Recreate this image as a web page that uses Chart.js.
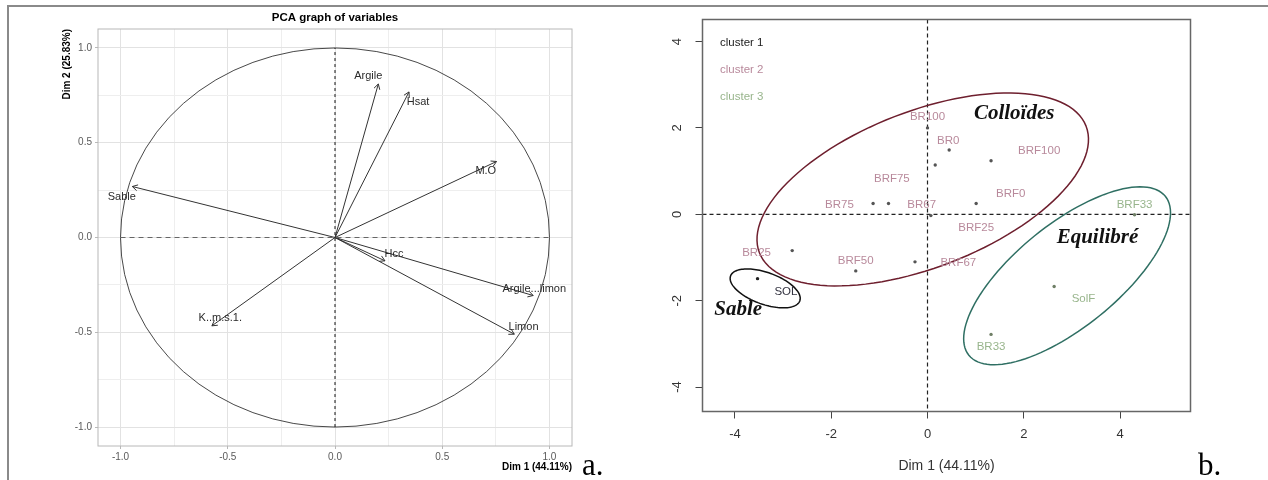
<!DOCTYPE html>
<html>
<head>
<meta charset="utf-8">
<script src="https://cdn.jsdelivr.net/npm/chart.js@4.4.1/dist/chart.umd.min.js"></script>
<style>
html, body { margin: 0; padding: 0; background: #fff; }
#wrap { position: relative; width: 1268px; height: 480px; overflow: hidden; }
#left { position: absolute; left: 0; top: 0; }
#right { position: absolute; left: 640px; top: 0; }
#frameTop { position: absolute; left: 7px; top: 5px; width: 1261px; height: 2px; background: #8a8a8a; }
#frameLeft { position: absolute; left: 7px; top: 5px; width: 2px; height: 475px; background: #8a8a8a; }
</style>
</head>
<body>
<div id="wrap">
  <canvas id="left" width="640" height="480"></canvas>
  <canvas id="right" width="628" height="480"></canvas>
  <div id="frameTop"></div>
  <div id="frameLeft"></div>
</div>
<script>
// ---- panel a : variables factor map ----
var varNames = ['Sable', 'Argile', 'Hsat', 'M.O', 'Hcc', 'Argile...limon', 'Limon', 'K..m.s.1.'];
var varDim1 = [-0.945, 0.202, 0.345, 0.753, 0.233, 0.924, 0.836, -0.574];
var varDim2 = [0.269, 0.810, 0.768, 0.401, -0.123, -0.306, -0.510, -0.466];
// where the names were written
var varLabDim1 = [-0.994, 0.155, 0.387, 0.703, 0.275, 0.929, 0.879, -0.535];
var varLabDim2 = [0.216, 0.850, 0.716, 0.352, -0.086, -0.269, -0.473, -0.426];
var gridTicksA = [-1, -0.75, -0.5, -0.25, 0, 0.25, 0.5, 0.75, 1];

// ---- panel b : individuals by cluster ----
var c1Names = ['SOL'];
var c1Dim1 = [-3.53];
var c1Dim2 = [-1.49];
var c1LabDim1 = [-2.94];
var c1LabDim2 = [-1.79];

var c2Names = ['BR100', 'BR0', 'BRF100', 'BRF75', 'BRF0', 'BR75', 'BR67', 'BRF25', 'BR25', 'BRF50', 'BRF67'];
var c2Dim1 = [0.00, 0.45, 1.32, 0.16, 1.01, -1.13, -0.81, 0.07, -2.81, -1.49, -0.26];
var c2Dim2 = [2.00, 1.49, 1.24, 1.14, 0.25, 0.25, 0.25, -0.03, -0.84, -1.31, -1.10];
var c2LabDim1 = [0.00, 0.43, 2.32, -0.74, 1.73, -1.83, -0.12, 1.01, -3.55, -1.49, 0.64];
var c2LabDim2 = [2.26, 1.71, 1.47, 0.83, 0.47, 0.22, 0.22, -0.32, -0.89, -1.08, -1.13];

var c3Names = ['BRF33', 'SolF', 'BR33'];
var c3Dim1 = [4.30, 2.63, 1.32];
var c3Dim2 = [-0.01, -1.67, -2.78];
var c3LabDim1 = [4.30, 3.24, 1.32];
var c3LabDim2 = [0.21, -1.96, -3.06];

var clusterNames = ['cluster 1', 'cluster 2', 'cluster 3'];
var ticksB = [-4, -2, 0, 2, 4];

// hand drawn ellipses: centre and two conjugate half axes, in Dim units
var ellCx = [-3.371, -0.099, 2.899];
var ellCy = [-1.715, 0.576, -1.423];
var ellUx = [0.719, 3.392, 2.040];
var ellUy = [-0.288, 1.466, 1.840];
var ellVx = [-0.112, 0.587, 0.673];
var ellVy = [-0.346, -1.685, -0.926];

var groupNames = ['Sable', 'Colloïdes', 'Equilibré'];
var groupDim1 = [-3.93, 1.80, 3.53];
var groupDim2 = [-2.21, 2.34, -0.55];

var sans = '"Liberation Sans", Arial, sans-serif';
var serif = '"Liberation Serif", "Times New Roman", serif';
var clusterText = ['#333340', '#b8899b', '#98b58c'];
var clusterDot = ['#222222', '#555555', '#6f7f66'];
var clusterEll = ['#111111', '#6e1f2e', '#2f6f63'];

function isMajor(v) { return Math.abs(v * 2 - Math.round(v * 2)) < 1e-9; }

function arrowHead(c, x0, y0, x1, y1, len) {
    var a = Math.atan2(y1 - y0, x1 - x0);
    c.beginPath();
    c.moveTo(x1 - len * Math.cos(a - 0.52), y1 - len * Math.sin(a - 0.52));
    c.lineTo(x1, y1);
    c.lineTo(x1 - len * Math.cos(a + 0.52), y1 - len * Math.sin(a + 0.52));
    c.stroke();
}

var panelA = {
    id: 'panelA',
    beforeDatasetsDraw: function(chart) {
        var c = chart.ctx, xs = chart.scales.x, ys = chart.scales.y;
        var cx = xs.getPixelForValue(0), cy = ys.getPixelForValue(0);
        var rx = xs.getPixelForValue(1) - cx, ry = cy - ys.getPixelForValue(1);
        c.save();
        c.strokeStyle = '#333';
        c.lineWidth = 0.9;
        c.beginPath();
        c.ellipse(cx, cy, rx, ry, 0, 0, 2 * Math.PI);
        c.stroke();
        c.restore();
    },
    afterDraw: function(chart) {
        var c = chart.ctx, xs = chart.scales.x, ys = chart.scales.y, a = chart.chartArea;
        c.save();
        // arrow heads
        c.strokeStyle = '#333';
        c.lineWidth = 1;
        for (var i = 0; i < varNames.length; i++) {
            arrowHead(c, xs.getPixelForValue(0), ys.getPixelForValue(0),
                xs.getPixelForValue(varDim1[i]), ys.getPixelForValue(varDim2[i]), 6);
        }
        // variable names
        c.fillStyle = '#2a2a2a';
        c.font = '11px ' + sans;
        c.textAlign = 'center';
        c.textBaseline = 'middle';
        for (var j = 0; j < varNames.length; j++) {
            c.fillText(varNames[j], xs.getPixelForValue(varLabDim1[j]), ys.getPixelForValue(varLabDim2[j]));
        }
        // panel border
        c.strokeStyle = '#b8b8b8';
        c.lineWidth = 1;
        c.strokeRect(a.left, a.top, a.right - a.left, a.bottom - a.top);
        // titles
        c.fillStyle = '#000';
        c.font = 'bold 11.5px ' + sans;
        c.fillText('PCA graph of variables', (a.left + a.right) / 2, 18);
        c.font = 'bold 10px ' + sans;
        c.textAlign = 'right';
        c.fillText('Dim 1 (44.11%)', a.right, 467);
        c.save();
        c.translate(67.5, a.top);
        c.rotate(-Math.PI / 2);
        c.fillText('Dim 2 (25.83%)', 0, 0);
        c.restore();
        c.textAlign = 'left';
        c.textBaseline = 'alphabetic';
        c.font = '31px ' + serif;
        c.fillText('a.', 582, 475);
        c.restore();
    }
};

var setsA = [];
setsA.push({ data: [{ x: -1, y: 0 }, { x: 1, y: 0 }], showLine: true, borderColor: '#666', borderWidth: 1.2, borderDash: [5, 4], pointRadius: 0 });
setsA.push({ data: [{ x: 0, y: -1 }, { x: 0, y: 1 }], showLine: true, borderColor: '#111', borderWidth: 1, borderDash: [3, 3], pointRadius: 0 });
for (var k = 0; k < varNames.length; k++) {
    setsA.push({
        label: varNames[k],
        data: [{ x: 0, y: 0 }, { x: varDim1[k], y: varDim2[k] }],
        showLine: true, borderColor: '#333', borderWidth: 1, pointRadius: 0
    });
}

new Chart(document.getElementById('left'), {
    type: 'scatter',
    data: { datasets: setsA },
    options: {
        responsive: false, animation: false, devicePixelRatio: 1,
        layout: { padding: { top: 29, right: 68, left: 0, bottom: 0 } },
        plugins: { legend: { display: false }, tooltip: { enabled: false } },
        scales: {
            x: {
                type: 'linear', min: -1.105, max: 1.105,
                afterBuildTicks: function(s) { s.ticks = gridTicksA.map(function(v) { return { value: v }; }); },
                afterFit: function(s) { s.height = 34; },
                border: { display: false },
                grid: {
                    color: function(ctx) { return ctx.tick && isMajor(ctx.tick.value) ? '#e2e2e2' : '#eeeeee'; },
                    lineWidth: 1, tickLength: 3,
                    tickColor: function(ctx) { return ctx.tick && isMajor(ctx.tick.value) ? '#b8b8b8' : 'rgba(0,0,0,0)'; }
                },
                ticks: {
                    autoSkip: false, maxRotation: 0, padding: 2, color: '#5a5a5a',
                    font: { size: 10, family: sans },
                    callback: function(v) { return isMajor(v) ? v.toFixed(1) : ''; }
                }
            },
            y: {
                type: 'linear', min: -1.10, max: 1.10,
                afterBuildTicks: function(s) { s.ticks = gridTicksA.map(function(v) { return { value: v }; }); },
                afterFit: function(s) { s.width = 98; },
                border: { display: false },
                grid: {
                    color: function(ctx) { return ctx.tick && isMajor(ctx.tick.value) ? '#e2e2e2' : '#eeeeee'; },
                    lineWidth: 1, tickLength: 3,
                    tickColor: function(ctx) { return ctx.tick && isMajor(ctx.tick.value) ? '#b8b8b8' : 'rgba(0,0,0,0)'; }
                },
                ticks: {
                    autoSkip: false, padding: 3, color: '#5a5a5a',
                    font: { size: 10, family: sans },
                    callback: function(v) { return isMajor(v) ? v.toFixed(1) : ''; }
                }
            }
        }
    },
    plugins: [panelA]
});

// ---- panel b ----
var ellipseNames = [c1Names, c2Names, c3Names];
var labX = [c1LabDim1, c2LabDim1, c3LabDim1];
var labY = [c1LabDim2, c2LabDim2, c3LabDim2];

var panelB = {
    id: 'panelB',
    beforeDatasetsDraw: function(chart) {
        var c = chart.ctx, xs = chart.scales.x, ys = chart.scales.y, a = chart.chartArea;
        c.save();
        // reference lines at 0
        c.strokeStyle = '#222';
        c.lineWidth = 1.2;
        c.setLineDash([4, 3]);
        var x0 = xs.getPixelForValue(0), y0 = ys.getPixelForValue(0);
        c.beginPath();
        c.moveTo(x0, a.top); c.lineTo(x0, a.bottom);
        c.moveTo(a.left, y0); c.lineTo(a.right, y0);
        c.stroke();
        c.setLineDash([]);
        // cluster ellipses
        for (var e = 0; e < ellCx.length; e++) {
            c.strokeStyle = clusterEll[e];
            c.lineWidth = 1.5;
            c.beginPath();
            for (var s = 0; s <= 120; s++) {
                var t = s / 120 * 2 * Math.PI;
                var px = xs.getPixelForValue(ellCx[e] + Math.cos(t) * ellUx[e] + Math.sin(t) * ellVx[e]);
                var py = ys.getPixelForValue(ellCy[e] + Math.cos(t) * ellUy[e] + Math.sin(t) * ellVy[e]);
                if (s === 0) c.moveTo(px, py); else c.lineTo(px, py);
            }
            c.closePath();
            c.stroke();
        }
        c.restore();
    },
    afterDraw: function(chart) {
        var c = chart.ctx, xs = chart.scales.x, ys = chart.scales.y, a = chart.chartArea;
        c.save();
        // point names
        c.font = '11.5px ' + sans;
        c.textAlign = 'center';
        c.textBaseline = 'middle';
        for (var g = 0; g < ellipseNames.length; g++) {
            c.fillStyle = clusterText[g];
            for (var i = 0; i < ellipseNames[g].length; i++) {
                c.fillText(ellipseNames[g][i], xs.getPixelForValue(labX[g][i]), ys.getPixelForValue(labY[g][i]));
            }
        }
        // legend
        c.textAlign = 'left';
        for (var l = 0; l < clusterNames.length; l++) {
            c.fillStyle = l === 0 ? '#222' : clusterText[l];
            c.fillText(clusterNames[l], a.left + 17.5, a.top + 23.2 + l * 27.3);
        }
        // group names
        c.fillStyle = '#111';
        c.textAlign = 'center';
        c.font = 'italic bold 21px ' + serif;
        for (var n = 0; n < groupNames.length; n++) {
            c.fillText(groupNames[n], xs.getPixelForValue(groupDim1[n]), ys.getPixelForValue(groupDim2[n]));
        }
        // box
        c.strokeStyle = '#666';
        c.lineWidth = 1.5;
        c.strokeRect(a.left, a.top, a.right - a.left, a.bottom - a.top);
        // y tick labels, parallel to the axis
        c.fillStyle = '#333';
        c.font = '13px ' + sans;
        for (var k = 0; k < ys.ticks.length; k++) {
            c.save();
            c.translate(a.left - 25, ys.getPixelForValue(ys.ticks[k].value));
            c.rotate(-Math.PI / 2);
            c.fillText(String(ys.ticks[k].value), 0, 0);
            c.restore();
        }
        c.font = '14px ' + sans;
        c.fillText('Dim 1 (44.11%)', (a.left + a.right) / 2, 466.5);
        c.textAlign = 'left';
        c.textBaseline = 'alphabetic';
        c.fillStyle = '#000';
        c.font = '31px ' + serif;
        c.fillText('b.', 1198 - 640, 475);
        c.restore();
    }
};

function pts(xs, ys) {
    return xs.map(function(v, i) { return { x: v, y: ys[i] }; });
}

new Chart(document.getElementById('right'), {
    type: 'scatter',
    data: {
        datasets: [
            { label: clusterNames[0], data: pts(c1Dim1, c1Dim2), pointRadius: 1.7, backgroundColor: clusterDot[0], borderWidth: 0 },
            { label: clusterNames[1], data: pts(c2Dim1, c2Dim2), pointRadius: 1.7, backgroundColor: clusterDot[1], borderWidth: 0 },
            { label: clusterNames[2], data: pts(c3Dim1, c3Dim2), pointRadius: 1.7, backgroundColor: clusterDot[2], borderWidth: 0 }
        ]
    },
    options: {
        responsive: false, animation: false, devicePixelRatio: 1,
        layout: { padding: { top: 19.5, right: 77.5, left: 0, bottom: 0 } },
        plugins: { legend: { display: false }, tooltip: { enabled: false } },
        scales: {
            x: {
                type: 'linear', min: -4.673, max: 5.462,
                afterBuildTicks: function(s) { s.ticks = ticksB.map(function(v) { return { value: v }; }); },
                afterFit: function(s) { s.height = 68.5; },
                border: { display: false },
                grid: { drawOnChartArea: false, drawTicks: true, tickLength: 7, color: '#444', lineWidth: 1 },
                ticks: { autoSkip: false, maxRotation: 0, padding: 8, color: '#333', font: { size: 13, family: sans } }
            },
            y: {
                type: 'linear', min: -4.565, max: 4.51,
                afterBuildTicks: function(s) { s.ticks = ticksB.map(function(v) { return { value: v }; }); },
                afterFit: function(s) { s.width = 62.5; },
                border: { display: false },
                grid: { drawOnChartArea: false, drawTicks: true, tickLength: 7, color: '#444', lineWidth: 1 },
                ticks: { display: false }
            }
        }
    },
    plugins: [panelB]
});
</script>
</body>
</html>
